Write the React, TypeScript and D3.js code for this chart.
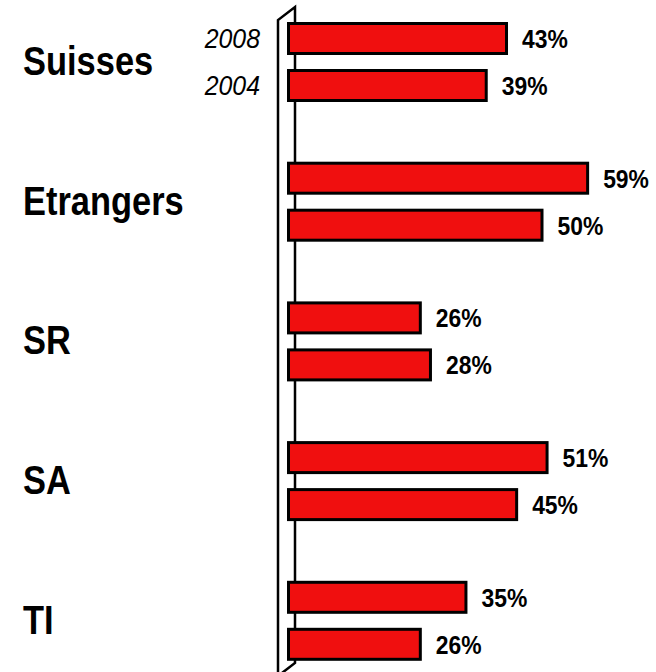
import React from "react";
import * as d3 from "d3";

const categories = ["Suisses", "Etrangers", "SR", "SA", "TI"];
const years = ["2008", "2004"];
const values2008 = [43, 59, 26, 51, 35];
const values2004 = [39, 50, 28, 45, 26];

const W = 656;
const H = 672;
const RED = "#f00f0f";
const SANS = "'Liberation Sans', Arial, sans-serif";

function NarrowText(props: {
  x: number;
  y: number;
  size: number;
  sx: number;
  anchor?: string;
  italic?: boolean;
  weight?: string;
  children: React.ReactNode;
}) {
  const { x, y, size, sx, anchor, italic, weight, children } = props;
  return (
    <text
      transform={`translate(${x},${y}) scale(${sx},1)`}
      textAnchor={anchor || "start"}
      fontFamily={SANS}
      fontWeight={weight || "bold"}
      fontStyle={italic ? "italic" : "normal"}
      fontSize={size}
      fill="#000"
    >
      {children}
    </text>
  );
}

export default function App() {
  const x = d3.scaleLinear().domain([0, 100]).range([288.5, 795.5]);
  const yGroup = d3.scaleBand<string>().domain(categories).range([23.5, 722]).padding(0);
  const yInner = d3.scaleBand<string>().domain(years).range([0, 77]).paddingInner(17 / 47).paddingOuter(0);
  const series: Record<string, number[]> = { "2008": values2008, "2004": values2004 };

  const groupCenter = (c: string) => (yGroup(c) as number) + 38.5;

  return (
    <svg width={W} height={H} style={{ position: "absolute", left: 0, top: 0, background: "#fff" }}>
      {/* 3D wall */}
      <path d="M278,676 L278,20 L295,7 L295,663 Z" fill="#fff" stroke="#000" strokeWidth={2.5} strokeLinejoin="miter" />
      {categories.map((c, i) => (
        <g key={c}>
          <NarrowText x={23} y={groupCenter(c) + 13} size={41} sx={0.84}>
            {c}
          </NarrowText>
          {years.map((yr) => {
            const v = series[yr][i];
            const y0 = (yGroup(c) as number) + (yInner(yr) as number);
            const bh = yInner.bandwidth();
            return (
              <g key={yr}>
                <rect x={x(0)} y={y0} width={x(v) - x(0)} height={bh} fill={RED} stroke="#000" strokeWidth={3} />
                <NarrowText x={x(v) + 15.5} y={y0 + bh / 2 + 9.5} size={26} sx={0.88}>
                  {v}%
                </NarrowText>
                {i === 0 && (
                  <NarrowText x={260} y={y0 + bh / 2 + 9} size={27} sx={0.92} anchor="end" italic weight="normal">
                    {yr}
                  </NarrowText>
                )}
              </g>
            );
          })}
        </g>
      ))}
    </svg>
  );
}
